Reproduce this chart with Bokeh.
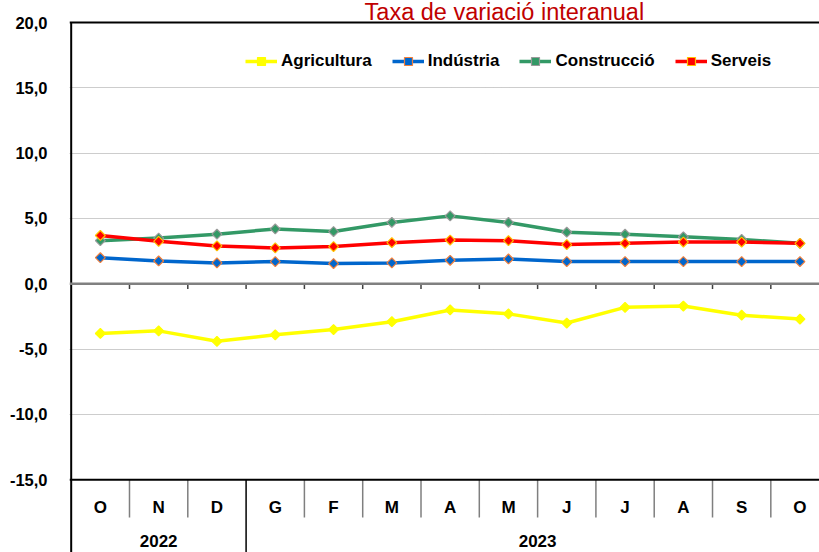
import math
from bokeh.plotting import figure
from bokeh.models import (Range1d, FixedTicker, CustomJSTickFormatter, Span,
                          Legend, LegendItem, ColumnDataSource)
from bokeh.core.properties import value
from bokeh.embed import file_html
from bokeh.resources import INLINE

# ---------------- data ----------------
months = ["O", "N", "D", "G", "F", "M", "A", "M", "J", "J", "A", "S", "O"]
years = ["2022", "2023"]
year_lengths = [3, 10]
agricultura = [-3.8, -3.6, -4.4, -3.9, -3.5, -2.9, -2.0, -2.3, -3.0, -1.8, -1.7, -2.4, -2.7]
industria = [2.0, 1.75, 1.6, 1.7, 1.55, 1.6, 1.8, 1.9, 1.7, 1.7, 1.7, 1.7, 1.7]
construccio = [3.3, 3.5, 3.8, 4.2, 4.0, 4.7, 5.2, 4.7, 3.95, 3.8, 3.6, 3.4, 3.1]
serveis = [3.7, 3.25, 2.9, 2.75, 2.85, 3.15, 3.35, 3.3, 3.0, 3.1, 3.2, 3.2, 3.1]
series_names = ["Agricultura", "Indústria", "Construcció", "Serveis"]
y_ticks = [-15, -10, -5, 0, 5, 10, 15, 20]
grid_ticks = [-10, -5, 5, 10, 15]
title_text = "Taxa de variació interanual"

FONT = "Liberation Sans"
n = len(months)
xs = [i + 0.5 for i in range(n)]
bounds = list(range(1, n))

Y_TOP, Y_BOTTOM = 21.684, -20.564
p = figure(width=819, height=552, output_backend="svg", toolbar_location=None,
           x_range=Range1d(-0.029, 12.835), y_range=Range1d(Y_BOTTOM, Y_TOP),
           x_axis_location=None, min_border_left=69, min_border_right=0,
           min_border_top=0, min_border_bottom=0)
p.outline_line_color = None
p.background_fill_color = "white"
p.border_fill_color = "white"
p.xgrid.visible = False

# y axis
ax = p.yaxis[0]
ax.ticker = FixedTicker(ticks=y_ticks)
ax.formatter = CustomJSTickFormatter(code="return tick.toFixed(1).replace('.', ',');")
ax.axis_line_color = None
ax.major_tick_line_color = None
ax.minor_tick_line_color = None
ax.major_label_standoff = 16
ax.major_label_text_font = FONT
ax.major_label_text_font_style = "bold"
ax.major_label_text_font_size = "16.5px"
ax.major_label_text_color = "black"

p.ygrid.ticker = FixedTicker(ticks=grid_ticks)
p.ygrid.grid_line_color = "#9a9a9a"
p.ygrid.grid_line_dash = "1 1"
p.ygrid.grid_line_width = 1

# structural lines
p.add_layout(Span(location=y_ticks[-1], dimension="width", line_color="black", line_width=2))
p.add_layout(Span(location=0, dimension="width", line_color="#808080", line_width=2.5))
p.add_layout(Span(location=y_ticks[0], dimension="width", line_color="black", line_width=2))
p.segment(x0=bounds, y0=[0] * len(bounds), x1=bounds, y1=[-0.4] * len(bounds),
          line_color="#404040", line_width=1.5)
year_bounds = [sum(year_lengths[:k + 1]) for k in range(len(year_lengths) - 1)]
month_seps = [b for b in bounds if b not in year_bounds]
p.segment(x0=month_seps, y0=[y_ticks[0]] * len(month_seps), x1=month_seps,
          y1=[-17.885] * len(month_seps), line_color="#7f7f7f", line_width=1.5)
p.segment(x0=year_bounds, y0=[y_ticks[0]] * len(year_bounds), x1=year_bounds,
          y1=[Y_BOTTOM] * len(year_bounds), line_color="black", line_width=1.5)
p.segment(x0=[0], y0=[y_ticks[-1]], x1=[0], y1=[Y_BOTTOM], line_color="black", line_width=2)

# category labels
p.text(x=xs, y=[-17.09] * n, text=months, text_align="center", text_baseline="middle",
       text_font=value(FONT), text_font_style="bold", text_font_size="17px", text_color="black")
year_centers = []
start = 0
for L in year_lengths:
    year_centers.append(start + L / 2)
    start += L
p.text(x=year_centers, y=[-19.68] * len(years), text=years, text_align="center",
       text_baseline="middle", text_font=value(FONT), text_font_style="bold",
       text_font_size="17px", text_color="black")

# title
p.text(x=[7.43], y=[20.8], text=[title_text], text_align="center", text_baseline="alphabetic",
       text_font=value(FONT), text_font_size="23.5px", text_color="#C00000")

# series
styles = [
    (agricultura, "#FFFF00", "#FFFF00", "#FFFF00"),
    (industria, "#0066CC", "#0066CC", "#F07F3C"),
    (construccio, "#339966", "#339966", "#9a9a9a"),
    (serveis, "#FF0000", "#FF0000", "#FFC000"),
]
items = []
for name, (vals, lc, fc, oc) in zip(series_names, styles):
    src = ColumnDataSource(dict(x=xs, y=vals))
    r1 = p.line("x", "y", source=src, line_color=lc, line_width=3.5)
    r2 = p.scatter("x", "y", source=src, marker="square", angle=math.pi / 4, size=7,
                   fill_color=fc, line_color=oc, line_width=1.2)
    items.append(LegendItem(label=name, renderers=[r1, r2]))

legend = Legend(items=items, orientation="horizontal", location=(176, 481),
                glyph_width=32, glyph_height=20, label_standoff=4, spacing=20,
                padding=0, margin=0, border_line_color=None, background_fill_alpha=0,
                label_text_font=FONT, label_text_font_style="bold",
                label_text_font_size="17px", label_text_color="black")
p.add_layout(legend)

open("out.html", "w").write(file_html(p, INLINE))
